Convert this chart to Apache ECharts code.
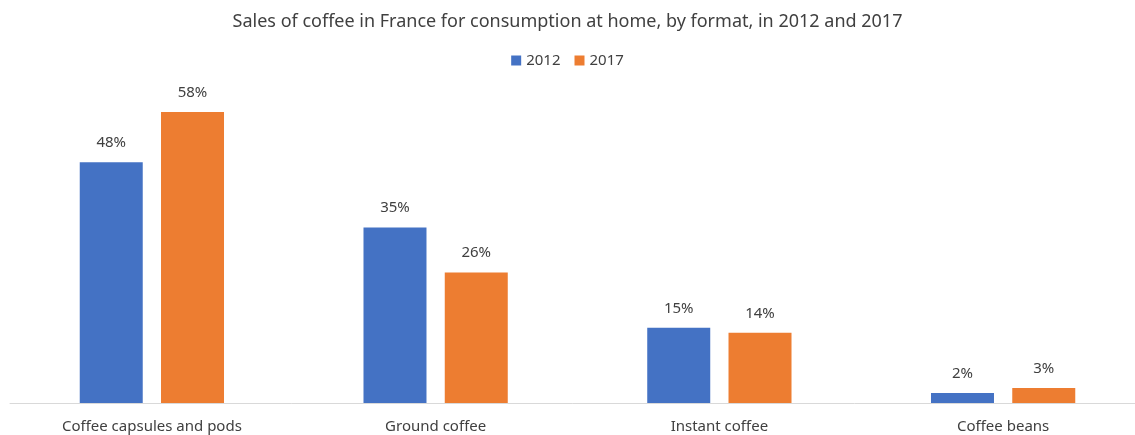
<!DOCTYPE html>
<html>
<head>
<meta charset="utf-8">
<script src="https://cdn.jsdelivr.net/npm/echarts@6/dist/echarts.min.js"></script>
<style>
  html, body { margin: 0; padding: 0; background: #fff; }
  #chart { width: 1135px; height: 435px; }
</style>
</head>
<body>
<div id="chart"></div>
<script>
const categories = ['Coffee capsules and pods', 'Ground coffee', 'Instant coffee', 'Coffee beans']
const sales2012 = [48, 35, 15, 2]
const sales2017 = [58, 26, 14, 3]

const textStyle = {
  fontFamily: 'Noto Sans',
  fontWeight: 'normal',
  color: '#404040'
}

const barLabel = {
  show: true,
  position: 'top',
  distance: 12,
  formatter: '{c}%',
  fontFamily: 'Noto Sans',
  fontSize: 15,
  color: '#404040'
}

const chart = echarts.init(document.getElementById('chart'))
chart.setOption({
  animation: false,
  color: ['#4472c4', '#ed7d31'],
  title: {
    text: 'Sales of coffee in France for consumption at home, by format, in 2012 and 2017',
    left: 'center',
    top: 8,
    textStyle: Object.assign({}, textStyle, { fontSize: 18 })
  },
  legend: {
    top: 48,
    left: 'center',
    itemWidth: 10,
    itemHeight: 10,
    itemGap: 14,
    icon: 'rect',
    textStyle: Object.assign({}, textStyle, { fontSize: 15 })
  },
  grid: {
    left: 10,
    width: 1135,
    top: 102,
    bottom: 32,
    outerBoundsMode: 'none'
  },
  xAxis: {
    type: 'category',
    data: categories,
    axisLine: { lineStyle: { color: '#d9d9d9', width: 1 } },
    axisTick: { show: false },
    axisLabel: Object.assign({}, textStyle, { fontSize: 15, margin: 16 })
  },
  yAxis: {
    type: 'value',
    min: 0,
    max: 60,
    show: false,
    splitLine: { show: false }
  },
  series: [
    {
      name: '2012',
      type: 'bar',
      data: sales2012,
      barWidth: 63,
      barGap: '29%',
      label: barLabel
    },
    {
      name: '2017',
      type: 'bar',
      data: sales2017,
      barWidth: 63,
      label: barLabel
    }
  ]
})
</script>
</body>
</html>
